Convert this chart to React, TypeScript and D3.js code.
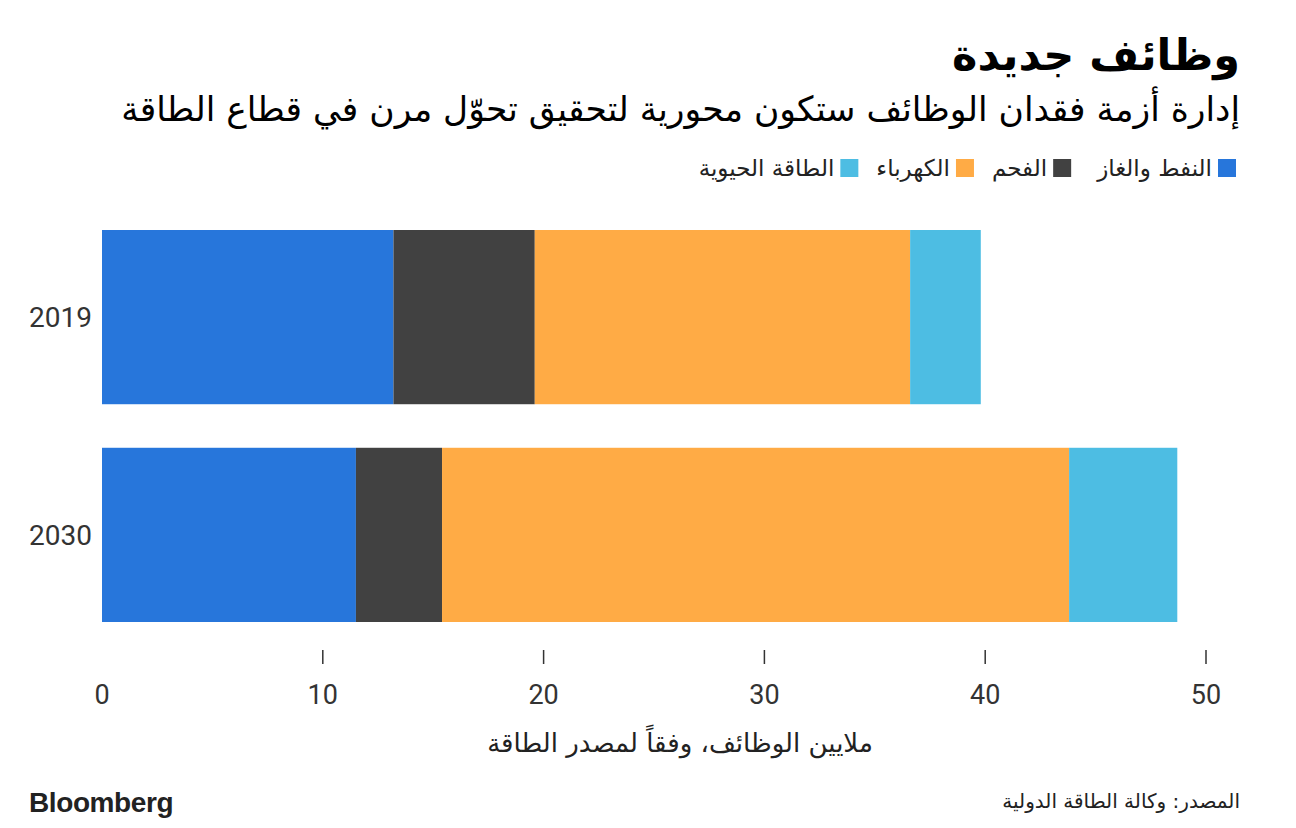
import React, { useEffect, useRef } from 'react'
import * as d3 from 'd3'

// million jobs, by energy source
const years = ['2019', '2030']
const oilGas = [13.2, 11.5]
const coal = [6.4, 3.9]
const power = [17.0, 28.4]
const bioenergy = [3.2, 4.9]

const seriesKeys = ['oilGas', 'coal', 'power', 'bioenergy']
const seriesNames = ['النفط والغاز', 'الفحم', 'الكهرباء', 'الطاقة الحيوية']
const seriesColors = ['#2776db', '#414141', '#ffab45', '#4dbde3']
const xTicks = [0, 10, 20, 30, 40, 50]

const title = 'وظائف جديدة'
const subtitle = 'إدارة أزمة فقدان الوظائف ستكون محورية لتحقيق تحوّل مرن في قطاع الطاقة'
const axisTitle = 'ملايين الوظائف، وفقاً لمصدر الطاقة'
const source = 'المصدر: وكالة الطاقة الدولية'

const W = 1296
const H = 828
const arabicFont = '"DejaVu Sans", "Noto Sans", sans-serif'
const numFont = 'Roboto, "DejaVu Sans", sans-serif'

const App = () => {
  const svgRef = useRef<SVGSVGElement>(null)

  useEffect(() => {
    const svg = d3.select(svgRef.current)
    svg.selectAll('*').remove()

    const rows = years.map((y, i) => ({
      year: y,
      oilGas: oilGas[i],
      coal: coal[i],
      power: power[i],
      bioenergy: bioenergy[i],
    }))

    const x = d3.scaleLinear().domain([0, 50]).range([102, 1206])
    const y = d3.scaleBand().domain(years).range([230, 622]).paddingInner(0.2)
    const stacked = d3.stack<any>().keys(seriesKeys)(rows)

    // header
    svg.append('text')
      .attr('x', 1240).attr('y', 70)
      .attr('text-anchor', 'end')
      .style('font-family', arabicFont)
      .style('font-weight', 'bold')
      .style('font-size', '43px')
      .style('fill', '#000')
      .text(title)

    svg.append('text')
      .attr('x', 1240).attr('y', 121)
      .attr('text-anchor', 'end')
      .style('font-family', arabicFont)
      .style('font-size', '34.5px')
      .style('fill', '#000')
      .text(subtitle)

    // legend, laid out right to left
    const legend = svg.append('g')
    let lx = 1236
    seriesNames.forEach((name, i) => {
      legend.append('rect')
        .attr('x', lx - 18).attr('y', 159)
        .attr('width', 18).attr('height', 18)
        .attr('fill', seriesColors[i])
      const t = legend.append('text')
        .attr('x', lx - 24).attr('y', 176)
        .attr('text-anchor', 'end')
        .style('font-family', arabicFont)
        .style('font-size', '23px')
        .style('fill', '#222')
        .text(name)
      const w = (t.node() as SVGTextElement).getComputedTextLength()
      lx = lx - 24 - w - (i === 0 ? 26 : 18)
    })

    // bars
    svg.append('g')
      .selectAll('g')
      .data(stacked)
      .join('g')
      .attr('fill', (_d, i) => seriesColors[i])
      .selectAll('rect')
      .data(d => d)
      .join('rect')
      .attr('x', d => x(d[0]))
      .attr('y', d => y(d.data.year)!)
      .attr('width', d => x(d[1]) - x(d[0]))
      .attr('height', y.bandwidth())

    // category labels
    svg.append('g')
      .selectAll('text')
      .data(years)
      .join('text')
      .attr('x', 92)
      .attr('y', d => y(d)! + y.bandwidth() / 2 + 10)
      .attr('text-anchor', 'end')
      .style('font-family', numFont)
      .style('font-size', '28px')
      .style('fill', '#333')
      .text(d => d)

    // x axis
    const ax = svg.append('g')
    ax.selectAll('line')
      .data(xTicks.filter(d => d !== 0))
      .join('line')
      .attr('x1', d => x(d)).attr('x2', d => x(d))
      .attr('y1', 650).attr('y2', 664)
      .attr('stroke', '#333').attr('stroke-width', 1.5)
    ax.selectAll('text')
      .data(xTicks)
      .join('text')
      .attr('x', d => x(d))
      .attr('y', 704)
      .attr('text-anchor', 'middle')
      .style('font-family', numFont)
      .style('font-size', '27px')
      .style('fill', '#333')
      .text(d => d)

    svg.append('text')
      .attr('x', 680).attr('y', 752)
      .attr('text-anchor', 'middle')
      .style('font-family', arabicFont)
      .style('font-size', '26px')
      .style('fill', '#222')
      .text(axisTitle)

    // footer
    svg.append('text')
      .attr('x', 29).attr('y', 812)
      .style('font-family', '"Liberation Sans", Arial, sans-serif')
      .style('font-weight', 'bold')
      .style('font-size', '28px')
      .style('letter-spacing', '-0.4px')
      .style('fill', '#222')
      .text('Bloomberg')

    svg.append('text')
      .attr('x', 1240).attr('y', 808)
      .attr('text-anchor', 'end')
      .style('font-family', arabicFont)
      .style('font-size', '20px')
      .style('fill', '#222')
      .text(source)
  }, [])

  return (
    <svg
      ref={svgRef}
      width={W}
      height={H}
      style={{ position: 'absolute', left: 0, top: 0, background: '#fff' }}
    />
  )
}

export default App
